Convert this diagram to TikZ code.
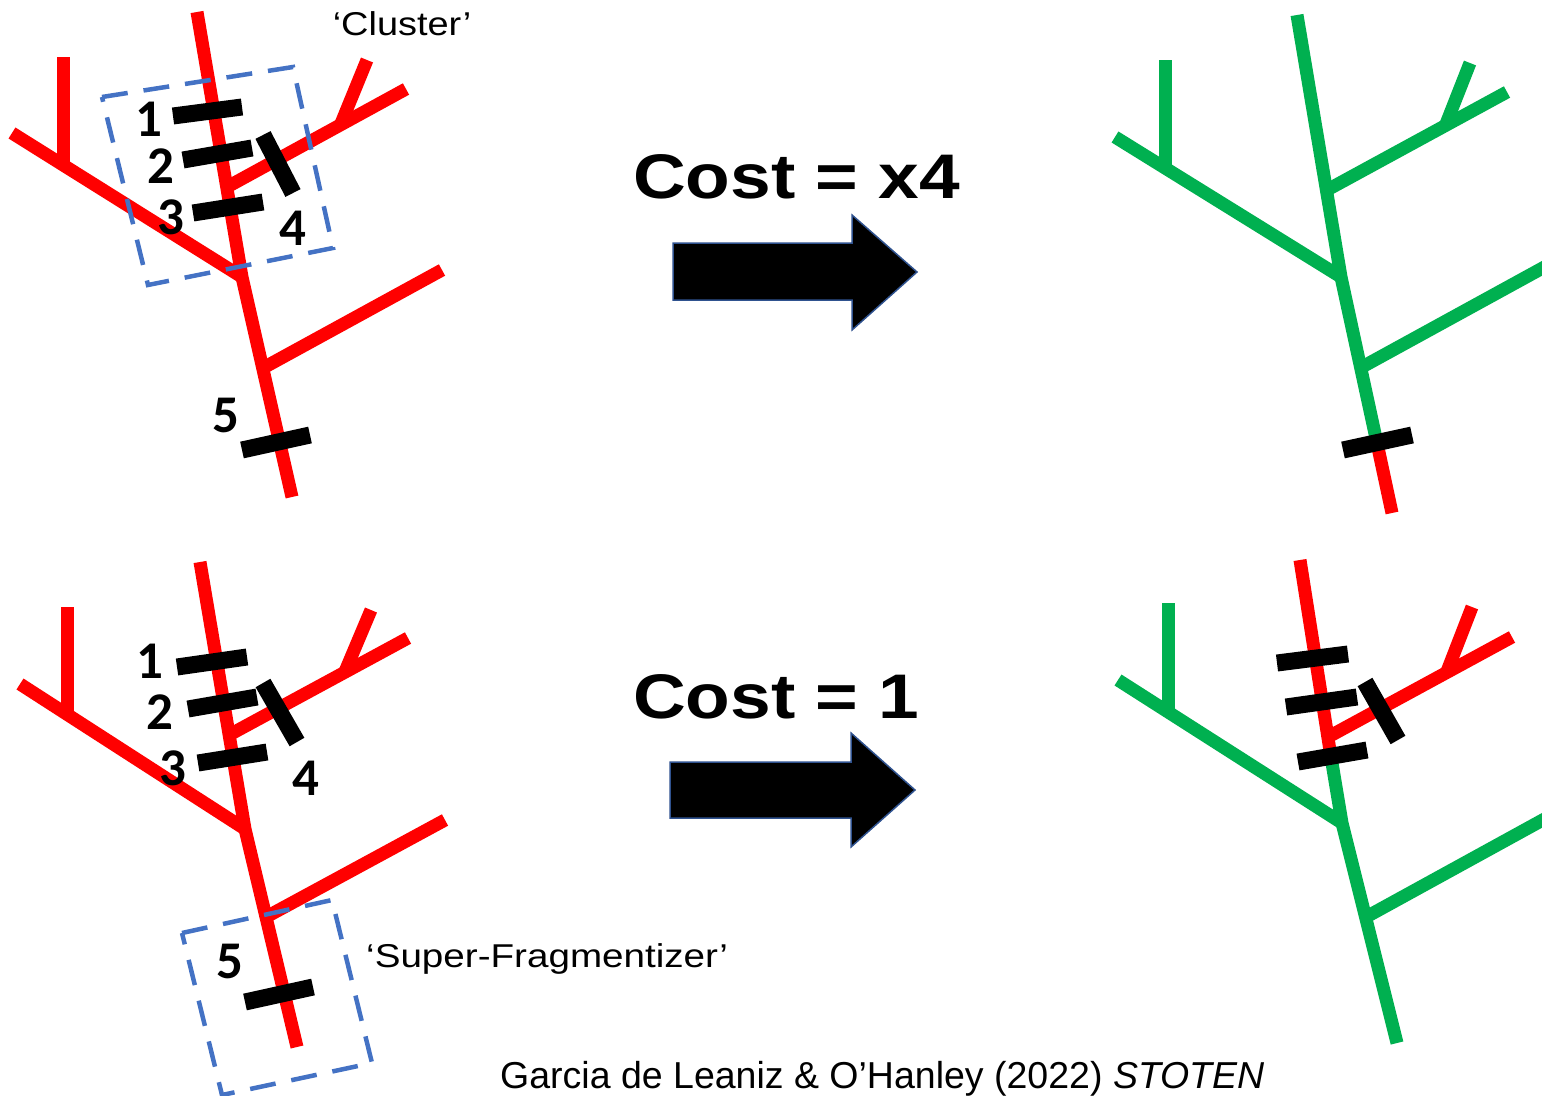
\documentclass[tikz,border=0pt]{standalone}
\usepackage{fontspec}
\usepackage{graphicx}
\setmainfont{Liberation Sans}
\newfontfamily\digitfont{Carlito}
\definecolor{river}{RGB}{255,0,0}
\definecolor{openriver}{RGB}{0,176,80}
\definecolor{boxblue}{RGB}{68,114,196}
\definecolor{arrowedge}{RGB}{47,82,143}
\begin{document}
\begin{tikzpicture}[x=1pt,y=-1pt,
  reach/.style={line width=13pt, line cap=butt, line join=round},
  blocked/.style={reach, draw=river},
  free/.style={reach, draw=openriver},
  barrier/.style={line width=17pt, draw=black, line cap=butt},
  clusterbox/.style={draw=boxblue, line width=4.5pt, dash pattern=on 26pt off 16pt, line join=miter},
  num/.style={font=\digitfont\bfseries\fontsize{53}{53}\selectfont, inner sep=0pt},
  tag/.style={font=\fontsize{33}{33}\selectfont, inner sep=0pt, anchor=base},
  cost/.style={font=\bfseries\fontsize{63}{63}\selectfont, inner sep=0pt, anchor=base west},
  bigarrow/.style={fill=black, draw=arrowedge, line width=1.5pt, line join=miter}]
\useasboundingbox (0,0) rectangle (1542,1095);
\clip (0,0) rectangle (1542,1095);

% ---------- upper left: network with barriers 1-5 ----------
\coordinate (a0) at (197,12);
\coordinate (aJu) at (227,187);
\coordinate (aJl) at (242,277);
\coordinate (aJr) at (263,368);
\coordinate (aEnd) at (292,497);
\draw[blocked] (a0) -- (aJl) -- (aEnd);
\draw[blocked] (12,133) -- (aJl);
\draw[blocked] (63,57) -- (63,165);
\draw[blocked] (aJu) -- (406,89);
\draw[blocked] (367,60) -- (340,126);
\draw[blocked] (aJr) -- (442,270);
\draw[barrier] (173,116) -- (242,107);
\draw[barrier] (183,160) -- (252,148);
\draw[barrier] (193,213) -- (263,202);
\draw[barrier] (263,135) -- (293,193);
\draw[barrier] (242,450) -- (310,435);
\draw[clusterbox] (102,97) -- (293,67) -- (333,248) -- (148,285) -- cycle;
\node[num] (a1) at (149,119) {1};
\node[num] (a2) at (161,166) {2};
\node[num] (a3) at (171,217) {3};
\node[num] (a4) at (293,228) {4};
\node[num] (a5) at (226,415) {5};
\node[tag] (clustertag) at (402,35) {\scalebox{1.15}[1]{‘Cluster’}};

% ---------- upper arrow ----------
\node[cost] (costA) at (633,198) {\scalebox{1.16}[1]{Cost = x4}};
\draw[bigarrow] (673,243) -- (852,243) -- (852,215) -- (917,272) -- (852,330) -- (852,300) -- (673,300) -- cycle;

% ---------- upper right: network after removing the cluster ----------
\coordinate (b0) at (1297,15);
\coordinate (bJu) at (1327,190);
\coordinate (bJl) at (1341,277);
\coordinate (bJr) at (1362,367);
\coordinate (bBar) at (1377,443);
\coordinate (bEnd) at (1392,513);
\draw[blocked] (bBar) -- (bEnd);
\draw[free] (b0) -- (bJl) -- (bBar);
\draw[free] (1115,137) -- (bJl);
\draw[free] (1165,60) -- (1165,165);
\draw[free] (bJu) -- (1507,92);
\draw[free] (1470,63) -- (1446,124);
\draw[free] (bJr) -- (1570,253);
\draw[barrier] (1343,450) -- (1412,435);

% ---------- lower left: network with the super-fragmentizer ----------
\coordinate (c0) at (200,562);
\coordinate (cJu) at (229,735);
\coordinate (cJl) at (245,829);
\coordinate (cJr) at (266,917);
\coordinate (cEnd) at (297,1047);
\draw[blocked] (c0) -- (cJl) -- (cEnd);
\draw[blocked] (20,684) -- (cJl);
\draw[blocked] (67,607) -- (67,712);
\draw[blocked] (cJu) -- (408,638);
\draw[blocked] (371,610) -- (344,674);
\draw[blocked] (cJr) -- (445,820);
\draw[barrier] (177,667) -- (247,657);
\draw[barrier] (188,709) -- (257,697);
\draw[barrier] (198,763) -- (267,752);
\draw[barrier] (263,683) -- (297,742);
\draw[barrier] (245,1002) -- (313,987);
\draw[clusterbox] (182,933) -- (332,900) -- (372,1063) -- (222,1095) -- cycle;
\node[num] (c1) at (150,661) {1};
\node[num] (c2) at (160,712) {2};
\node[num] (c3) at (173,768) {3};
\node[num] (c4) at (306,778) {4};
\node[num] (c5) at (230,961) {5};
\node[tag, anchor=base west] (supertag) at (366,967) {\scalebox{1.17}[1]{‘Super-Fragmentizer’}};

% ---------- lower arrow ----------
\node[cost] (costB) at (633,718) {\scalebox{1.16}[1]{Cost = 1}};
\draw[bigarrow] (670,762) -- (851,762) -- (851,733) -- (915,790) -- (851,847) -- (851,818) -- (670,818) -- cycle;

% ---------- lower right: network after removing barrier 5 ----------
\coordinate (d0) at (1300,560);
\coordinate (dJu) at (1328,737);
\coordinate (dSwitch) at (1331,757);
\coordinate (dJl) at (1342,823);
\coordinate (dJr) at (1366,917);
\coordinate (dEnd) at (1397,1043);
\draw[free] (dSwitch) -- (dJl) -- (dEnd);
\draw[free] (1118,680) -- (dJl);
\draw[free] (1168,603) -- (1168,710);
\draw[free] (dJr) -- (1570,805);
\draw[blocked] (d0) -- (dSwitch);
\draw[blocked] (dJu) -- (1512,637);
\draw[blocked] (1472,607) -- (1446,674);
\draw[barrier] (1277,663) -- (1348,654);
\draw[barrier] (1286,707) -- (1357,697);
\draw[barrier] (1298,762) -- (1367,750);
\draw[barrier] (1365,682) -- (1398,740);

% ---------- source ----------
\node[font=\fontsize{37.5}{38}\selectfont, inner sep=0pt, anchor=base west] (source) at (500,1088) {Garcia de Leaniz \& O’Hanley (2022) \textit{STOTEN}};
\end{tikzpicture}
\end{document}
